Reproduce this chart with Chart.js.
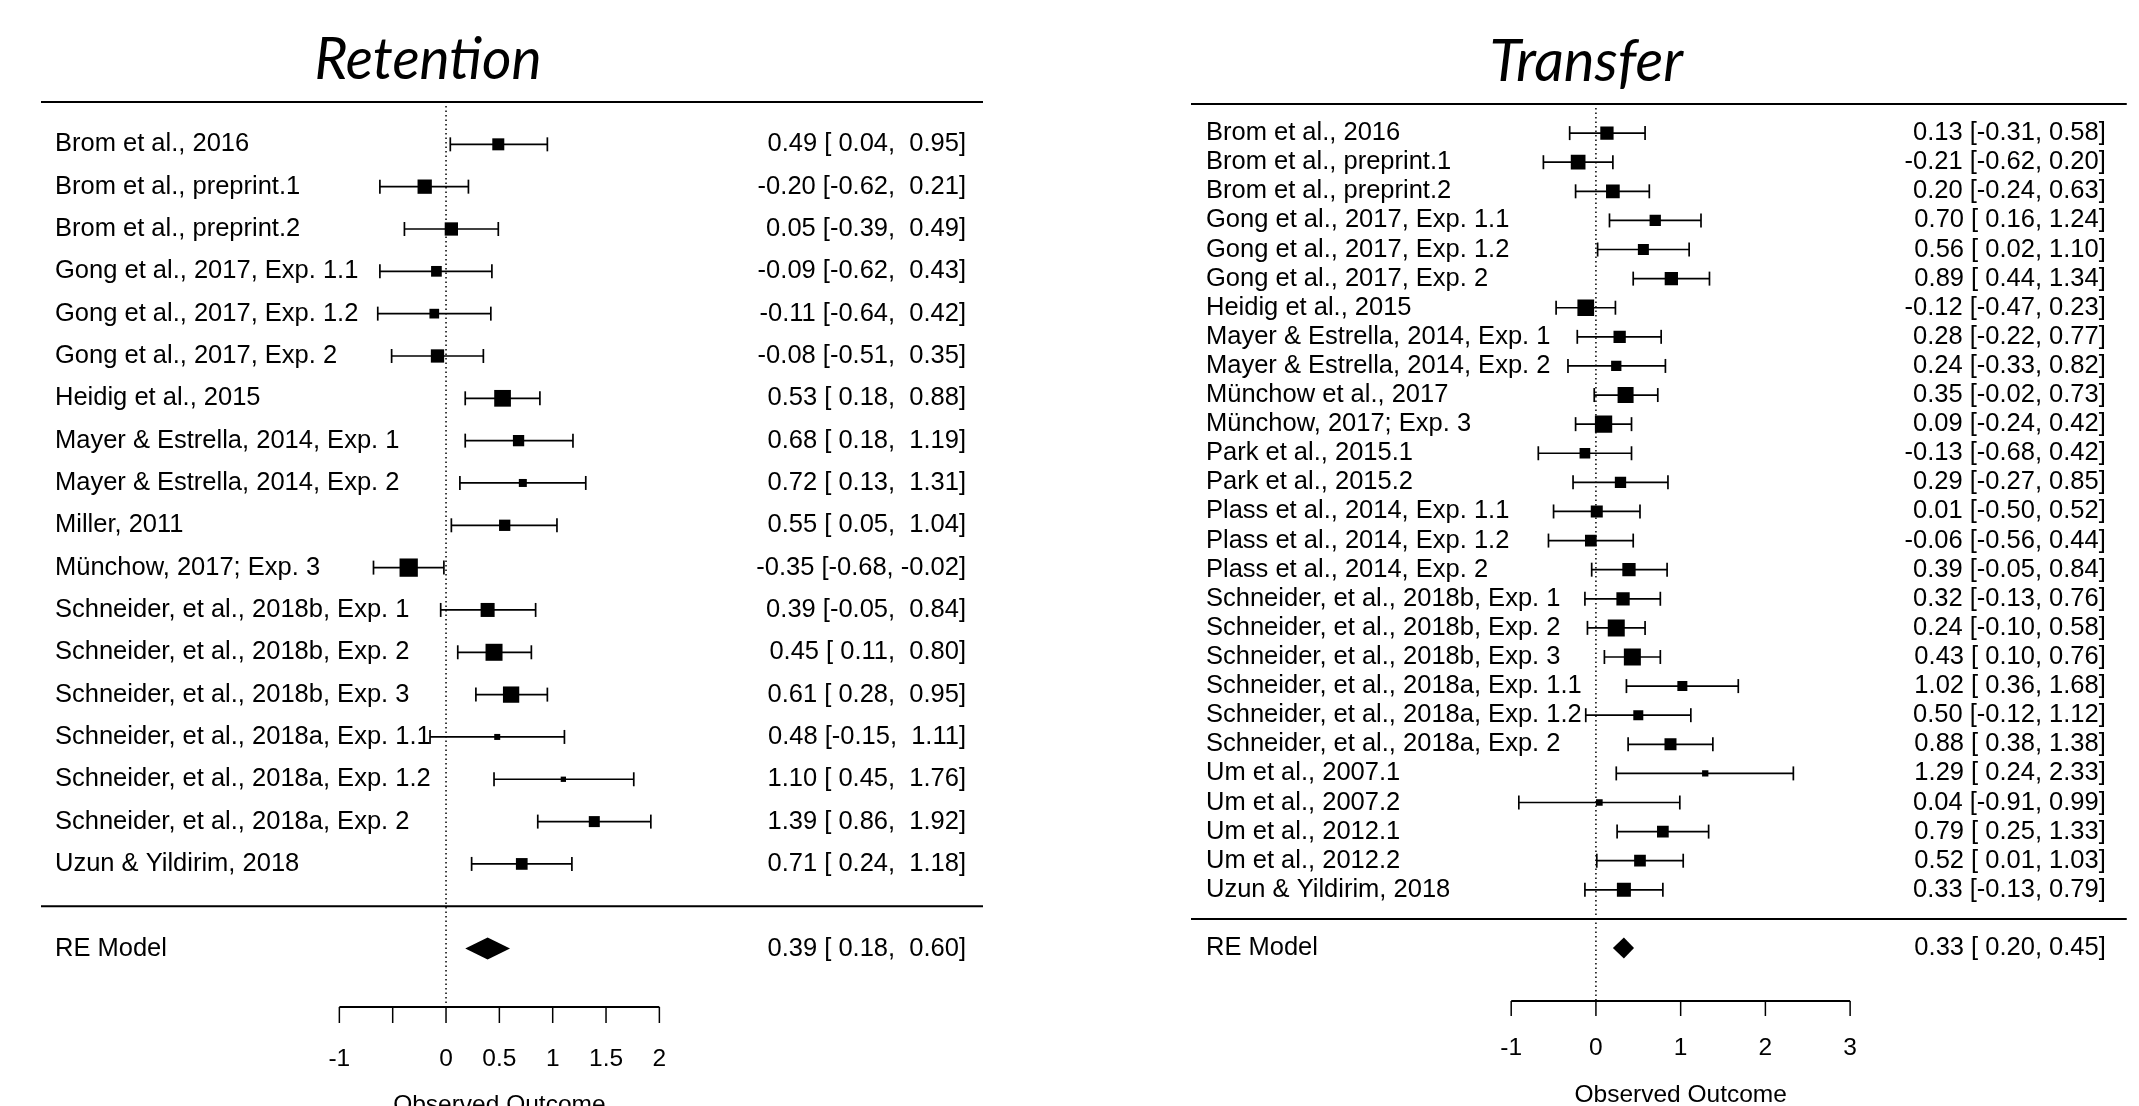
<!DOCTYPE html>
<html>
<head>
<meta charset="utf-8">
<title>Retention / Transfer forest plots</title>
<script src="https://cdn.jsdelivr.net/npm/chart.js@4.4.1/dist/chart.umd.min.js"></script>
<style>
    html, body { margin: 0; padding: 0; background: #fff; }
    body { width: 2139px; height: 1106px; position: relative; overflow: hidden; }
    canvas { position: absolute; top: 0; }
    #retentionChart { left: 0; }
    #transferChart { left: 1070px; }
</style>
</head>
<body>
<canvas id="retentionChart" width="1070" height="1106"></canvas>
<canvas id="transferChart" width="1069" height="1106"></canvas>
<script>
// Retention studies
const retStudies = [
    'Brom et al., 2016', 'Brom et al., preprint.1', 'Brom et al., preprint.2',
    'Gong et al., 2017, Exp. 1.1', 'Gong et al., 2017, Exp. 1.2', 'Gong et al., 2017, Exp. 2',
    'Heidig et al., 2015', 'Mayer & Estrella, 2014, Exp. 1', 'Mayer & Estrella, 2014, Exp. 2',
    'Miller, 2011', 'Münchow, 2017; Exp. 3',
    'Schneider, et al., 2018b, Exp. 1', 'Schneider, et al., 2018b, Exp. 2', 'Schneider, et al., 2018b, Exp. 3',
    'Schneider, et al., 2018a, Exp. 1.1', 'Schneider, et al., 2018a, Exp. 1.2', 'Schneider, et al., 2018a, Exp. 2',
    'Uzun & Yildirim, 2018',
];
const retEst = [0.49, -0.20, 0.05, -0.09, -0.11, -0.08, 0.53, 0.68, 0.72, 0.55, -0.35, 0.39, 0.45, 0.61, 0.48, 1.10, 1.39, 0.71];
const retLo  = [0.04, -0.62, -0.39, -0.62, -0.64, -0.51, 0.18, 0.18, 0.13, 0.05, -0.68, -0.05, 0.11, 0.28, -0.15, 0.45, 0.86, 0.24];
const retHi  = [0.95, 0.21, 0.49, 0.43, 0.42, 0.35, 0.88, 1.19, 1.31, 1.04, -0.02, 0.84, 0.80, 0.95, 1.11, 1.76, 1.92, 1.18];
// relative study weights (square size)
const retWeight = [12, 14.3, 13.3, 10.7, 9.7, 13.3, 16.7, 11.3, 8, 11.3, 18.3, 14, 17, 16.3, 6, 5.3, 11, 11.7];
const retModel = [0.39, 0.18, 0.60]; // estimate, lower, upper
const retTicks = [-1, -0.5, 0, 0.5, 1, 1.5, 2];
const retTickLabels = ['-1', '', '0', '0.5', '1', '1.5', '2'];

// Transfer studies
const traStudies = [
    'Brom et al., 2016', 'Brom et al., preprint.1', 'Brom et al., preprint.2',
    'Gong et al., 2017, Exp. 1.1', 'Gong et al., 2017, Exp. 1.2', 'Gong et al., 2017, Exp. 2',
    'Heidig et al., 2015', 'Mayer & Estrella, 2014, Exp. 1', 'Mayer & Estrella, 2014, Exp. 2',
    'Münchow et al., 2017', 'Münchow, 2017; Exp. 3', 'Park et al., 2015.1', 'Park et al., 2015.2',
    'Plass et al., 2014, Exp. 1.1', 'Plass et al., 2014, Exp. 1.2', 'Plass et al., 2014, Exp. 2',
    'Schneider, et al., 2018b, Exp. 1', 'Schneider, et al., 2018b, Exp. 2', 'Schneider, et al., 2018b, Exp. 3',
    'Schneider, et al., 2018a, Exp. 1.1', 'Schneider, et al., 2018a, Exp. 1.2', 'Schneider, et al., 2018a, Exp. 2',
    'Um et al., 2007.1', 'Um et al., 2007.2', 'Um et al., 2012.1', 'Um et al., 2012.2',
    'Uzun & Yildirim, 2018',
];
const traEst = [0.13, -0.21, 0.20, 0.70, 0.56, 0.89, -0.12, 0.28, 0.24, 0.35, 0.09, -0.13, 0.29, 0.01, -0.06, 0.39, 0.32, 0.24, 0.43, 1.02, 0.50, 0.88, 1.29, 0.04, 0.79, 0.52, 0.33];
const traLo  = [-0.31, -0.62, -0.24, 0.16, 0.02, 0.44, -0.47, -0.22, -0.33, -0.02, -0.24, -0.68, -0.27, -0.50, -0.56, -0.05, -0.13, -0.10, 0.10, 0.36, -0.12, 0.38, 0.24, -0.91, 0.25, 0.01, -0.13];
const traHi  = [0.58, 0.20, 0.63, 1.24, 1.10, 1.34, 0.23, 0.77, 0.82, 0.73, 0.42, 0.42, 0.85, 0.52, 0.44, 0.84, 0.76, 0.58, 0.76, 1.68, 1.12, 1.38, 2.33, 0.99, 1.33, 1.03, 0.79];
const traWeight = [13.3, 14.7, 13.7, 11.3, 11, 13.3, 16.7, 12.3, 10.3, 16, 17.3, 10.7, 11.3, 12, 11.7, 13.3, 13.3, 17, 17, 10, 10, 12, 6.3, 6.7, 11.7, 11.7, 14];
const traModel = [0.33, 0.20, 0.45];
const traTicks = [-1, 0, 1, 2, 3];
const traTickLabels = ['-1', '0', '1', '2', '3'];

const LABEL_FONT = '25.5px "Liberation Sans", Arial, sans-serif';
const TICK_FONT = '24.5px "Liberation Sans", Arial, sans-serif';
const TITLE_FONT = 'italic 58px Lato, "Open Sans", sans-serif';

// pad a column of numbers to equal width, like R's formatC
function fmtCol(values) {
    const s = values.map(v => v.toFixed(2));
    const w = Math.max(...s.map(t => t.length));
    return s.map(t => t.padStart(w, ' '));
}

function drawLine(ctx, x1, y1, x2, y2) {
    ctx.beginPath();
    ctx.moveTo(x1, y1);
    ctx.lineTo(x2, y2);
    ctx.stroke();
}

// Draws everything except the squares: rules, CIs, diamond, text, axis
function forestPlugin(p) {
    const k = p.studies.length;
    const e = fmtCol(p.est.concat([p.model[0]]));
    const l = fmtCol(p.lo.concat([p.model[1]]));
    const h = fmtCol(p.hi.concat([p.model[2]]));
    const notes = e.map((v, i) => `${v} [${l[i]}, ${h[i]}]`);
    const rowOf = i => (i < k ? k - i : -1);

    return {
        id: 'forest',
        beforeDatasetsDraw(chart) {
            const { ctx, chartArea: a, scales: { x, y } } = chart;
            ctx.save();
            ctx.strokeStyle = '#000';
            ctx.lineWidth = 2;
            [k + 1, 0].forEach(r => {
                const py = y.getPixelForValue(r);
                drawLine(ctx, a.left, py, a.right, py);
            });
            // dotted reference line at 0
            const x0 = x.getPixelForValue(0);
            ctx.lineWidth = 1.5;
            ctx.setLineDash([1.5, 3]);
            drawLine(ctx, x0, y.getPixelForValue(k + 1) + 4, x0, a.bottom);
            ctx.setLineDash([]);
            // confidence intervals
            ctx.lineWidth = 1.7;
            p.lo.forEach((lo, i) => {
                const py = y.getPixelForValue(rowOf(i));
                const x1 = x.getPixelForValue(lo);
                const x2 = x.getPixelForValue(p.hi[i]);
                drawLine(ctx, x1, py, x2, py);
                drawLine(ctx, x1, py - p.cap, x1, py + p.cap);
                drawLine(ctx, x2, py - p.cap, x2, py + p.cap);
            });
            ctx.restore();
        },
        afterDatasetsDraw(chart) {
            const { ctx, chartArea: a, scales: { x, y } } = chart;
            ctx.save();
            ctx.fillStyle = '#000';
            ctx.strokeStyle = '#000';

            // summary diamond
            const yr = y.getPixelForValue(-1);
            ctx.beginPath();
            ctx.moveTo(x.getPixelForValue(p.model[1]), yr);
            ctx.lineTo(x.getPixelForValue(p.model[0]), yr - p.diamond);
            ctx.lineTo(x.getPixelForValue(p.model[2]), yr);
            ctx.lineTo(x.getPixelForValue(p.model[0]), yr + p.diamond);
            ctx.closePath();
            ctx.fill();

            // study labels and annotations
            ctx.font = LABEL_FONT;
            ctx.textBaseline = 'middle';
            ctx.textAlign = 'left';
            p.studies.concat(['RE Model']).forEach((s, i) => {
                ctx.fillText(s, a.left + p.padL, y.getPixelForValue(rowOf(i)));
            });
            ctx.textAlign = 'right';
            notes.forEach((n, i) => {
                ctx.fillText(n, a.right - p.padR, y.getPixelForValue(rowOf(i)));
            });

            // x axis
            const ay = a.bottom;
            const xa = x.getPixelForValue(p.ticks[0]);
            const xb = x.getPixelForValue(p.ticks[p.ticks.length - 1]);
            ctx.lineWidth = 2;
            drawLine(ctx, xa, ay, xb, ay);
            ctx.lineWidth = 1.5;
            ctx.font = TICK_FONT;
            ctx.textAlign = 'center';
            p.ticks.forEach((t, i) => {
                const px = x.getPixelForValue(t);
                drawLine(ctx, px, ay, px, ay + p.tickLen);
                ctx.fillText(p.tickLabels[i], px, ay + p.labelGap);
            });
            ctx.fillText('Observed Outcome', (xa + xb) / 2, ay + p.titleGap);

            // panel title
            ctx.font = TITLE_FONT;
            ctx.textBaseline = 'alphabetic';
            ctx.translate(chart.width * p.titleX, p.titleY);
            ctx.scale(p.titleSquash, 1);
            ctx.fillText(p.title, 0, 0);
            ctx.restore();
        },
    };
}

function createForest(canvasId, p) {
    const ctx = document.getElementById(canvasId).getContext('2d');
    const k = p.studies.length;
    return new Chart(ctx, {
        type: 'scatter',
        data: {
            datasets: [{
                label: p.title,
                data: p.est.map((v, i) => ({ x: v, y: k - i })),
                pointStyle: 'rect',
                pointRadius: p.weight.map(w => w / Math.SQRT2),
                pointHoverRadius: p.weight.map(w => w / Math.SQRT2),
                backgroundColor: '#000',
                borderWidth: 0,
            }],
        },
        options: {
            responsive: false,
            animation: false,
            devicePixelRatio: 1,
            layout: { padding: p.padding },
            plugins: { legend: { display: false }, tooltip: { enabled: false } },
            scales: {
                x: { type: 'linear', display: false, bounds: 'data', min: p.xRange[0], max: p.xRange[1] },
                y: { type: 'linear', display: false, bounds: 'data', min: p.yMin, max: k + 1 },
            },
        },
        plugins: [forestPlugin(p)],
    });
}

createForest('retentionChart', {
    title: 'Retention', studies: retStudies, est: retEst, lo: retLo, hi: retHi,
    weight: retWeight, model: retModel, ticks: retTicks, tickLabels: retTickLabels,
    padding: { left: 41, right: 87, top: 102, bottom: 99 },
    xRange: [-3.797, 5.034], yMin: -2.38,
    cap: 7, diamond: 11, padL: 14, padR: 17,
    tickLen: 16, labelGap: 52, titleGap: 98,
    titleX: 0.4, titleY: 79, titleSquash: 0.98,
});

createForest('transferChart', {
    title: 'Transfer', studies: traStudies, est: traEst, lo: traLo, hi: traHi,
    weight: traWeight, model: traModel, ticks: traTicks, tickLabels: traTickLabels,
    padding: { left: 121, right: 12, top: 104, bottom: 105 },
    xRange: [-4.779, 6.265], yMin: -2.82,
    cap: 7, diamond: 10.5, padL: 15, padR: 21,
    tickLen: 15, labelGap: 47, titleGap: 94,
    titleX: 0.483, titleY: 81, titleSquash: 1.0,
});
</script>
</body>
</html>
